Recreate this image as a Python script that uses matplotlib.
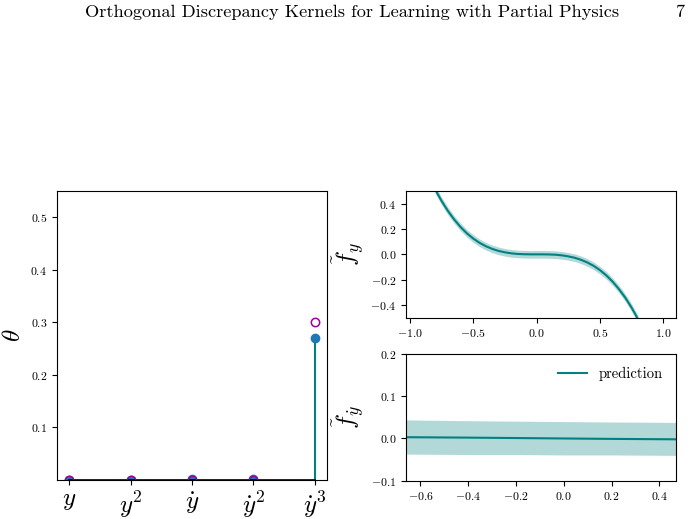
import numpy as np
import matplotlib
matplotlib.use("Agg")
import matplotlib.pyplot as plt

plt.rcParams["font.family"] = "serif"
plt.rcParams["font.serif"] = ["cmr10", "DejaVu Serif"]
plt.rcParams["mathtext.fontset"] = "cm"
plt.rcParams["axes.formatter.use_mathtext"] = True

# coefficient values per library term
features = [r"$y$", r"$y^2$", r"$\dot{y}$", r"$\dot{y}^2$", r"$\dot{y}^3$"]
theta_est = [0.0, 0.0, 0.001, 0.001, 0.27]
theta_true = [0.0, 0.0, 0.0, 0.0, 0.3]

# discrepancy in y
x_fy = [-0.80, -0.75, -0.70, -0.65, -0.60, -0.55, -0.50, -0.45, -0.40, -0.35,
        -0.30, -0.25, -0.20, -0.15, -0.10, -0.05, 0.00, 0.05, 0.10, 0.15,
        0.20, 0.25, 0.30, 0.35, 0.40, 0.45, 0.50, 0.55, 0.60, 0.65,
        0.70, 0.75, 0.80]
fy_mean = [0.512, 0.422, 0.343, 0.275, 0.216, 0.166, 0.125, 0.091, 0.064, 0.043,
           0.027, 0.016, 0.008, 0.003, 0.001, 0.000, 0.000, 0.000, -0.001, -0.003,
           -0.008, -0.016, -0.027, -0.043, -0.064, -0.091, -0.125, -0.166, -0.216, -0.275,
           -0.343, -0.422, -0.512]
fy_band = 0.03

# discrepancy in y-dot
x_fyd = [-0.66, -0.4, -0.2, 0.0, 0.2, 0.47]
fyd_mean = [0.003, 0.002, 0.001, 0.000, -0.001, -0.002]
fyd_upper = [0.044, 0.042, 0.041, 0.040, 0.039, 0.038]
fyd_lower = [-0.037, -0.038, -0.038, -0.039, -0.039, -0.040]

teal = "#008080"
band = "#b2d8d8"

fig = plt.figure(figsize=(6.93, 5.19), dpi=100)

fig.text(0.123, 0.977, "Orthogonal Discrepancy Kernels for Learning with Partial Physics",
         fontsize=13.2, ha="left", va="center")
fig.text(0.981, 0.977, "7", fontsize=13.2, ha="center", va="center")

# left: coefficients
ax1 = fig.add_axes([0.0823, 0.0751, 0.3896, 0.5568])
pos = np.arange(len(features))
ml, sl, bl = ax1.stem(pos, theta_est, linefmt="-", markerfmt="o", basefmt="k-")
plt.setp(sl, color=teal, linewidth=1.5)
plt.setp(ml, color="#1f77b4", markersize=6)
plt.setp(bl, linewidth=1.2)
ax1.plot(pos, theta_true, "o", markerfacecolor="none", markeredgecolor="#9b009b",
         markersize=6, markeredgewidth=1.1, linestyle="none")
ax1.set_xlim(-0.2, 4.2)
ax1.set_ylim(0, 0.55)
ax1.set_yticks([0.1, 0.2, 0.3, 0.4, 0.5])
ax1.set_xticks(pos)
ax1.set_xticklabels(features, fontsize=18)
ax1.tick_params(axis="y", labelsize=8.5)
ax1.set_ylabel(r"$\theta$", fontsize=18)
ax1.yaxis.set_label_coords(-0.12, 0.5)

# top right
ax2 = fig.add_axes([0.5859, 0.388, 0.3896, 0.2439])
ax2.fill_between(x_fy, np.array(fy_mean) - fy_band, np.array(fy_mean) + fy_band,
                 color=band, linewidth=0)
ax2.plot(x_fy, fy_mean, color=teal, linewidth=1.5)
ax2.set_xlim(-1.03, 1.1)
ax2.set_ylim(-0.5, 0.5)
ax2.set_yticks([-0.4, -0.2, 0.0, 0.2, 0.4])
ax2.tick_params(labelsize=8.5)
ax2.set_ylabel(r"$\tilde{f}_y$", fontsize=18)
ax2.yaxis.set_label_coords(-0.15, 0.5)

# bottom right
ax3 = fig.add_axes([0.5859, 0.0738, 0.3896, 0.2441])
ax3.fill_between(x_fyd, fyd_lower, fyd_upper, color=band, linewidth=0)
ax3.plot(x_fyd, fyd_mean, color=teal, linewidth=1.5, label="prediction")
ax3.set_xlim(-0.66, 0.47)
ax3.set_ylim(-0.1, 0.2)
ax3.set_yticks([-0.1, 0.0, 0.1, 0.2])
ax3.tick_params(labelsize=8.5)
ax3.set_ylabel(r"$\tilde{f}_{\dot{y}}$", fontsize=18)
ax3.yaxis.set_label_coords(-0.15, 0.5)
ax3.legend(loc="upper right", frameon=False, fontsize=10.5)

fig.savefig("out.png", dpi=100)
